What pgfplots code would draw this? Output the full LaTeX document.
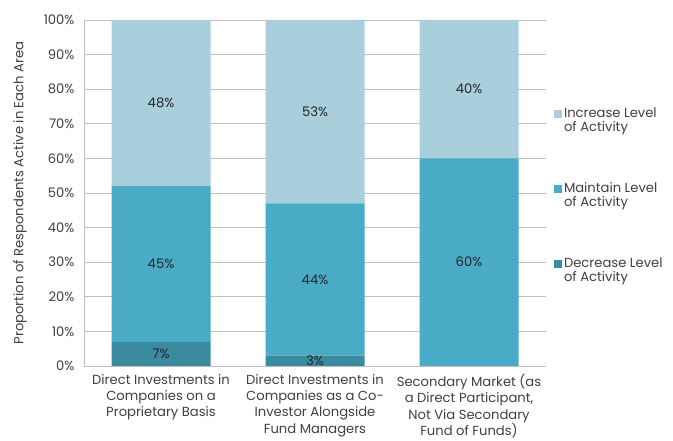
\documentclass[border=0pt]{standalone}
\usepackage{fontspec}
\setmainfont{Poppins}
\usepackage{pgfplots}
\pgfplotsset{compat=1.18}
\definecolor{incC}{HTML}{A9CEDC}
\definecolor{mntC}{HTML}{4AABC6}
\definecolor{decC}{HTML}{3A8AA0}
\definecolor{gridC}{HTML}{BFBFBF}
\definecolor{txtC}{HTML}{404040}
\newcommand{\chartfont}{\fontsize{13.2}{16}\selectfont}
\newcommand{\xtfont}{\fontsize{13.2}{16.5}\selectfont}
\newcommand{\lgfont}{\fontsize{13.2}{14}\selectfont}

\begin{document}
\begin{tikzpicture}[x=1bp,y=1bp]
\useasboundingbox (0,0) rectangle (673,441);
\clip (0,0) rectangle (673,441);
% main stacked bars
\begin{axis}[
  at={(84bp,75bp)}, anchor=south west,
  width=462bp, height=346bp, scale only axis,
  ybar stacked, bar width=99bp,
  xmin=-0.5, xmax=2.5, ymin=0, ymax=100,
  /pgf/number format/assume math mode=true,
  xtick={0,1,2},
  xticklabels={{Direct Investments in\\Companies on a\\Proprietary Basis},
               {Direct Investments in\\Companies as a Co-\\Investor Alongside\\Fund Managers},
               {Secondary Market (as\\a Direct Participant,\\Not Via Secondary\\Fund of Funds)}},
  xticklabel style={align=center, text=txtC, font=\xtfont, yshift=-4.5bp},
  ytick={0,10,...,100},
  yticklabel={\pgfmathprintnumber{\tick}\%},
  yticklabel style={text=txtC, font=\chartfont, xshift=-6bp},
  ymajorgrids, grid style={gridC, line width=0.8bp},
  axis x line*=bottom, axis y line*=left,
  axis line style={gridC, line width=0.8bp},
  major tick length=0pt,
  ylabel={Proportion of Respondents Active in Each Area},
  ylabel style={at={(axis description cs:-0.1385,0.5)}, anchor=center, text=txtC, font=\chartfont},
  reverse legend,
  legend image code/.code={\fill[#1] (0pt,2.5pt) rectangle (8pt,10.5pt);},
  legend style={draw=none, fill=none, inner sep=0pt,
    at={(1.017,0.752)}, anchor=north west, row sep=46pt,
    cells={align=left, anchor=west}, font=\lgfont, text=txtC},
]
\addplot[fill=decC, draw=none] coordinates {(0,7) (1,3) (2,0)};
\addlegendentry{Decrease Level\\of Activity}
\addplot[fill=mntC, draw=none] coordinates {(0,45) (1,44) (2,60)};
\addlegendentry{Maintain Level\\of Activity}
\addplot[fill=incC, draw=none] coordinates {(0,48) (1,53) (2,40)};
\addlegendentry{Increase Level\\of Activity}
\end{axis}
% segment labels, centred in each segment
\begin{axis}[
  at={(84bp,75bp)}, anchor=south west,
  width=462bp, height=346bp, scale only axis,
  xmin=-0.5, xmax=2.5, ymin=0, ymax=100,
  hide axis, clip=false,
]
\addplot[draw=none, mark=none, nodes near coords, point meta=explicit symbolic,
  every node near coord/.style={anchor=center, font=\chartfont, text=black!85}]
  coordinates {(0,3.5)[7\%] (0,29.5)[45\%] (0,76)[48\%]
               (1,1.5)[3\%] (1,25)[44\%] (1,73.5)[53\%]
               (2,30)[60\%] (2,80)[40\%]};
\end{axis}
\end{tikzpicture}
\end{document}
